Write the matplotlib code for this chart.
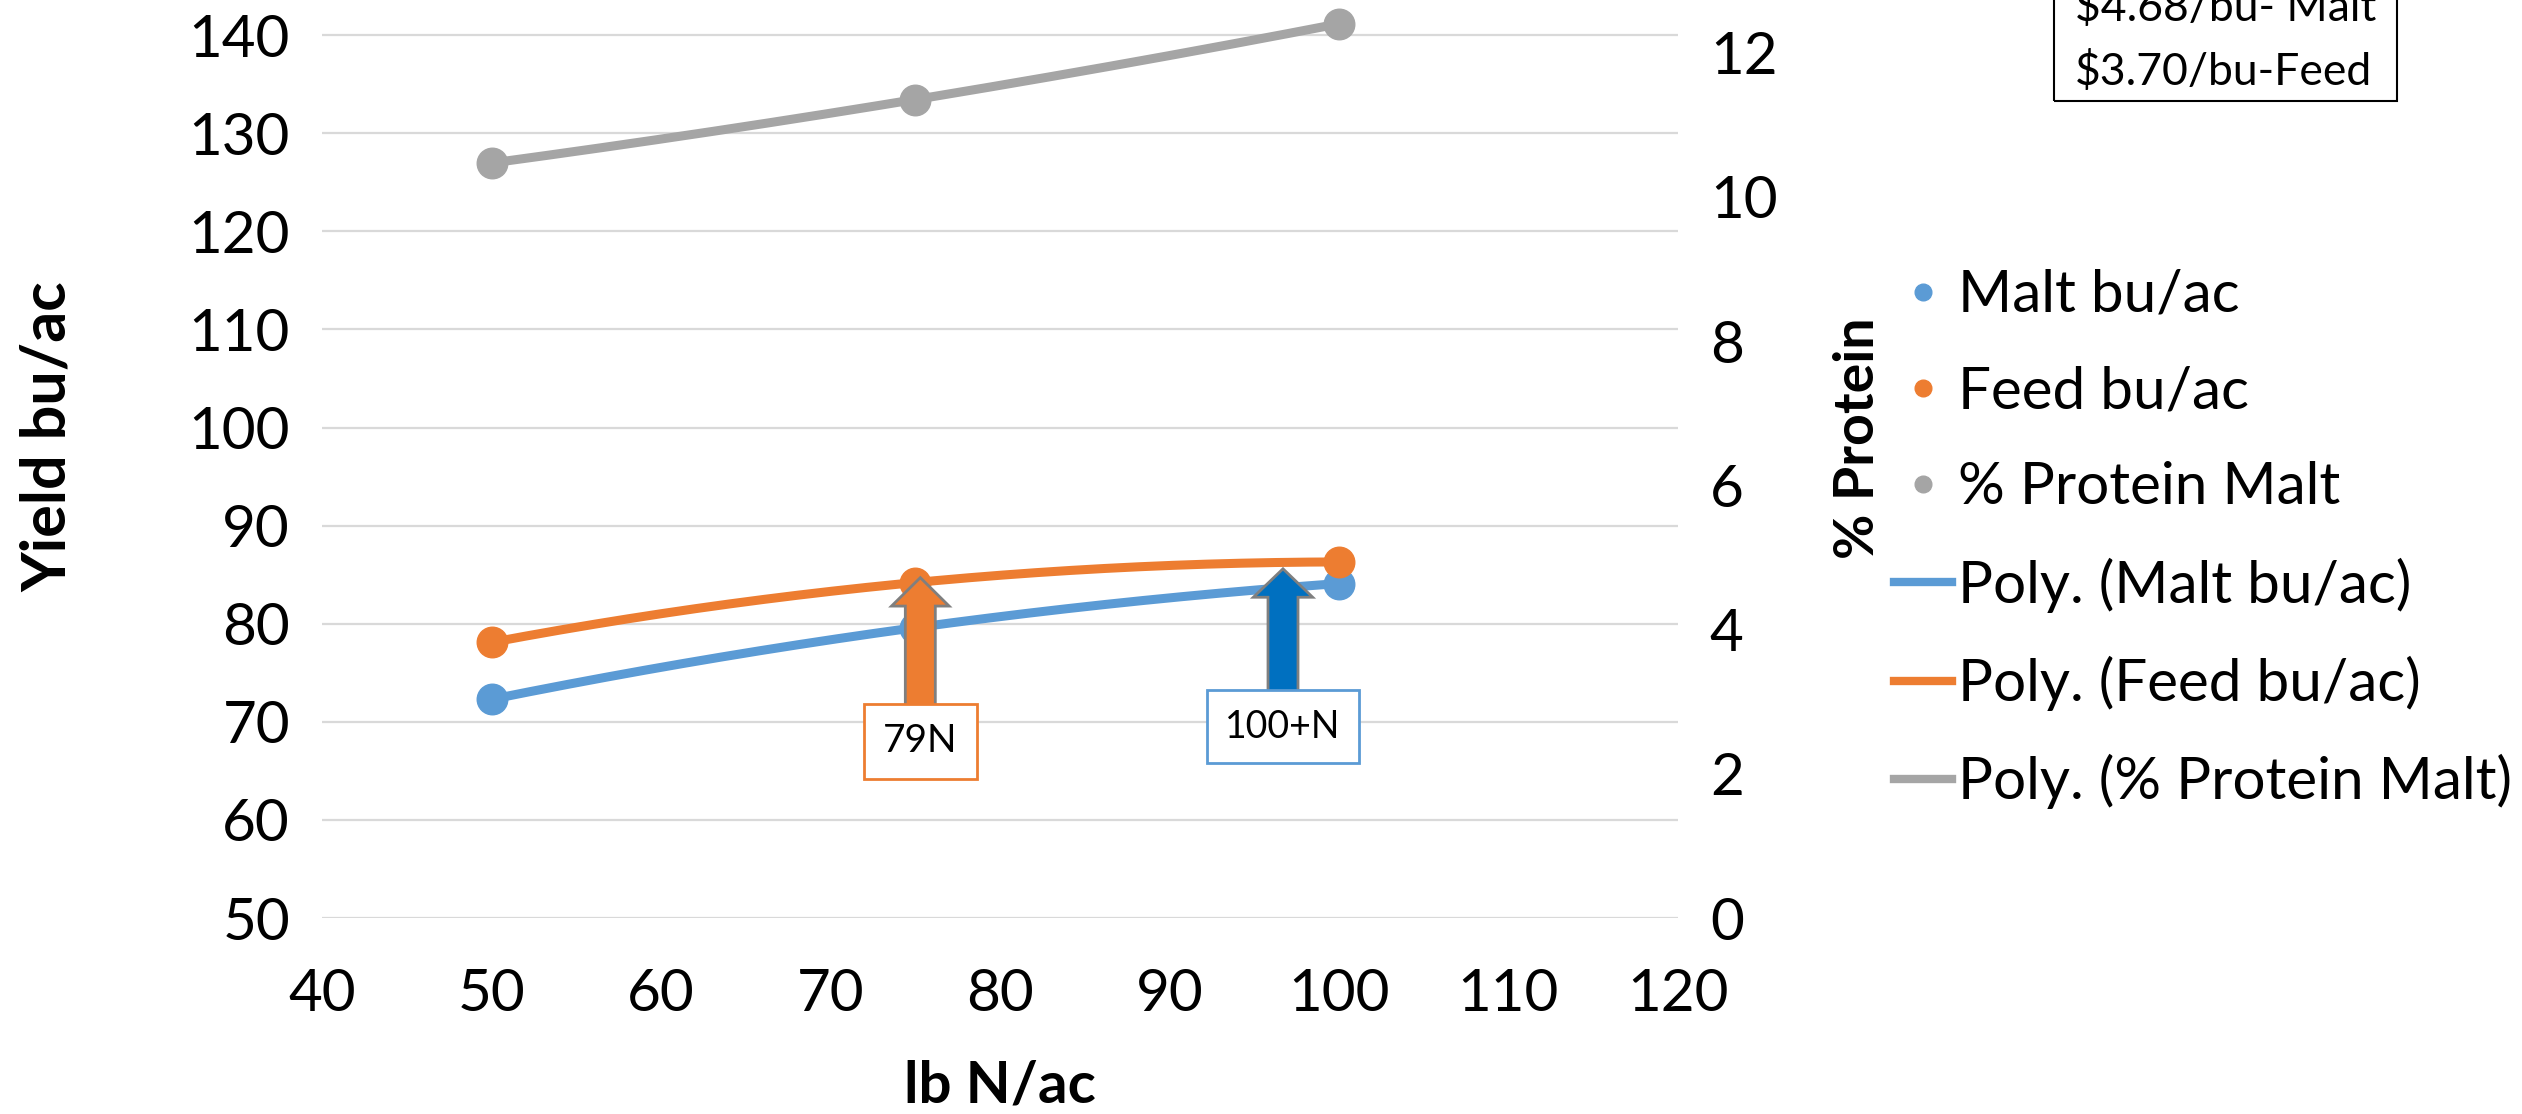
import numpy as np
import matplotlib.pyplot as plt
from matplotlib.lines import Line2D
from matplotlib.patches import FancyArrow, Rectangle

plt.rcParams['font.family'] = ['Lato', 'DejaVu Sans']

# data
n_rate = [50, 75, 100]
malt_yield = [72.3, 79.6, 84.1]
feed_yield = [78.1, 84.2, 86.3]
protein_malt = [10.47, 11.35, 12.40]

x_ticks = [40, 50, 60, 70, 80, 90, 100, 110, 120]
yield_ticks = [50, 60, 70, 80, 90, 100, 110, 120, 130, 140]
protein_ticks = [0, 2, 4, 6, 8, 10, 12]

price_lines = ["$4.68/bu- Malt", "$3.70/bu-Feed"]
arrow_labels = ["79N", "100+N"]

blue = "#5B9BD5"
orange = "#ED7D31"
grey = "#A5A5A5"

fig = plt.figure(figsize=(25.22, 11.14), dpi=100)
ax = fig.add_axes([0.1277, 0.1759, 0.5376, 0.8241])
ax2 = ax.twinx()

ax.set_xlim(40, 120)
ax.set_ylim(50, 143.58)
ax2.set_ylim(0, 12.73)
ax.set_xticks(x_ticks)
ax.set_yticks(yield_ticks)
ax2.set_yticks(protein_ticks)
ax.grid(axis='y', color='#D9D9D9', lw=1.6)
ax.set_axisbelow(True)
for a in (ax, ax2):
    for s in a.spines.values():
        s.set_visible(False)
ax.tick_params(axis='x', length=0, labelsize=42, pad=36)
ax.tick_params(axis='y', length=0, labelsize=42, pad=23)
ax2.tick_params(axis='y', length=0, labelsize=42, pad=23)

# polynomial (2nd order) trendlines, like Excel
xs = np.linspace(min(n_rate), max(n_rate), 200)
for vals, col, a in [(malt_yield, blue, ax), (feed_yield, orange, ax), (protein_malt, grey, ax2)]:
    coef = np.polyfit(n_rate, vals, 2)
    a.plot(xs, np.polyval(coef, xs), color=col, lw=6.5, solid_capstyle='round', zorder=3)
    a.plot(n_rate, vals, 'o', color=col, ms=22, zorder=4)

# arrows + labels
ax.add_patch(FancyArrow(75.3, 69.3, 0, 84.7 - 69.3, width=1.77, head_width=3.4, head_length=2.9,
                        length_includes_head=True, fc=orange, ec='#7F7F7F', lw=2, zorder=5))
ax.add_patch(FancyArrow(96.7, 71.0, 0, 85.6 - 71.0, width=1.77, head_width=3.5, head_length=2.9,
                        length_includes_head=True, fc='#0070C0', ec='#7F7F7F', lw=2, zorder=5))
ax.text(75.3, 68.0, arrow_labels[0], fontsize=28, ha='center', va='center', zorder=6,
        bbox=dict(boxstyle='square,pad=0.5', fc='white', ec=orange, lw=2))
ax.text(96.7, 69.5, arrow_labels[1], fontsize=27, ha='center', va='center', zorder=6,
        bbox=dict(boxstyle='square,pad=0.5', fc='white', ec=blue, lw=2))

# axis titles
fig.text(48 / 2522, 1 - 437 / 1114, 'Yield bu/ac', rotation=90, ha='center', va='center',
         fontsize=44, fontweight='bold')
fig.text(1858 / 2522, 1 - 438 / 1114, '% Protein', rotation=90, ha='center', va='center',
         fontsize=40, fontweight='bold')
fig.text(1000 / 2522, 1 - 1086 / 1114, 'lb N/ac', ha='center', va='center',
         fontsize=42, fontweight='bold')

# price box (cut off at top, as in the source image)
fig.patches.append(Rectangle((2054 / 2522, 1 - 101 / 1114), 343 / 2522, 0.2,
                             transform=fig.transFigure, fill=False, ec='black', lw=1.5))
fig.text(2075 / 2522, 1 - 8 / 1114, price_lines[0], fontsize=32, va='center')
fig.text(2075 / 2522, 1 - 72 / 1114, price_lines[1], fontsize=32, va='center')

handles = [
    Line2D([], [], ls='none', marker='o', color=blue, ms=12),
    Line2D([], [], ls='none', marker='o', color=orange, ms=12),
    Line2D([], [], ls='none', marker='o', color=grey, ms=12),
    Line2D([], [], color=blue, lw=6),
    Line2D([], [], color=orange, lw=6),
    Line2D([], [], color=grey, lw=6),
]
labels = ["Malt bu/ac", "Feed bu/ac", "% Protein Malt",
          "Poly. (Malt bu/ac)", "Poly. (Feed bu/ac)", "Poly. (% Protein Malt)"]
fig.legend(handles, labels, loc='upper left', bbox_to_anchor=(1894 / 2522, 1 - 269 / 1114),
           frameon=False, fontsize=42, handlelength=1.0, handletextpad=0.1,
           labelspacing=0.74, borderpad=0, borderaxespad=0)

fig.savefig("out.png", dpi=100)
